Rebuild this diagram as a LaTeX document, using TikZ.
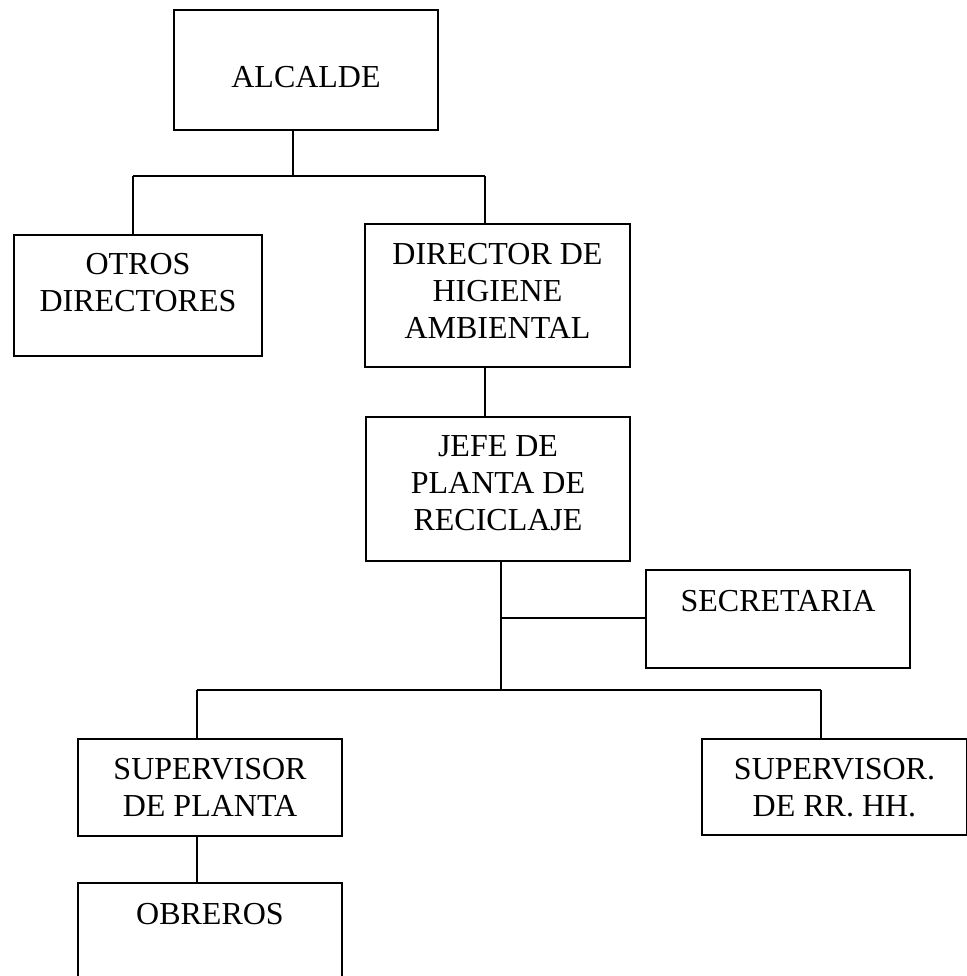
\documentclass[tikz,border=0pt]{standalone}
\usepackage{fontspec}
\setmainfont{Liberation Serif}
\usetikzlibrary{calc}

% box text: width, height, first baseline, text
\newcommand{\cajatexto}[4]{\parbox[c][#2][t]{#1}{\centering\rule{0pt}{#3}#4}}

\begin{document}
\begin{tikzpicture}[
        x=0.5pt, y=-0.5pt,
        cargo/.style={rectangle, draw, line width=1pt, inner sep=0pt, anchor=north west, font=\fontsize{16}{18.5}\selectfont},
        linea/.style={line width=0.75pt}
      ]
        \useasboundingbox (0,0) rectangle (967,976);
        \clip (0,0) rectangle (967,976);

        % Top level
        \node[cargo] (alcalde) at (173,9) {\cajatexto{132pt}{60pt}{38.5pt}{ALCALDE}};

        % Second level
        \node[cargo] (otros) at (13,234) {\cajatexto{124pt}{60.5pt}{19.5pt}{OTROS\\DIRECTORES}};
        \node[cargo] (director) at (364,223) {\cajatexto{132.5pt}{71.5pt}{20pt}{DIRECTOR DE\\HIGIENE\\AMBIENTAL}};

        % Third level
        \node[cargo] (jefe) at (365,416) {\cajatexto{132pt}{72pt}{19.5pt}{JEFE DE\\PLANTA DE\\RECICLAJE}};
        \node[cargo] (secretaria) at (645,569) {\cajatexto{132pt}{49pt}{20.5pt}{SECRETARIA}};

        % Fourth level
        \node[cargo] (supplanta) at (77,738) {\cajatexto{132pt}{48.5pt}{20pt}{SUPERVISOR\\DE PLANTA}};
        \node[cargo] (suprrhh) at (701,738) {\cajatexto{132.5pt}{48pt}{20pt}{SUPERVISOR.\\DE RR. HH.}};
        \node[cargo] (obreros) at (77,882) {\cajatexto{132pt}{60pt}{20.5pt}{OBREROS}};

        % Branch points
        \coordinate (barM) at (293,176);
        \coordinate (barL) at (133,176);
        \coordinate (barR) at (485,176);
        \coordinate (secJ) at (501,618);
        \coordinate (barB) at (501,690);
        \coordinate (barBL) at (197,690);
        \coordinate (barBR) at (821,690);

        % Lines
        \draw[linea] (alcalde.south -| barM) -- (barM);
        \draw[linea] (barL) -- (barR);
        \draw[linea] (barL) -- (barL |- otros.north);
        \draw[linea] (barR) -- (barR |- director.north);
        \draw[linea] (director.south -| barR) -- (jefe.north -| barR);
        \draw[linea] (jefe.south -| barB) -- (barB);
        \draw[linea] (secJ) -- (secJ -| secretaria.west);
        \draw[linea] (barBL) -- (barBR);
        \draw[linea] (barBL) -- (barBL |- supplanta.north);
        \draw[linea] (barBR) -- (barBR |- suprrhh.north);
        \draw[linea] (supplanta.south -| barBL) -- (obreros.north -| barBL);
      \end{tikzpicture}
\end{document}
